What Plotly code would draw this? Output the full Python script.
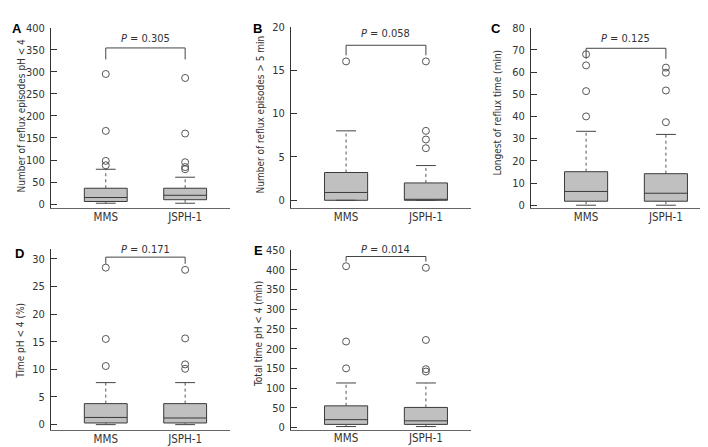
import plotly.graph_objects as go

cats = ["MMS", "JSPH-1"]

# A: number of reflux episodes pH < 4
a_q1 = [6, 10]
a_med = [15, 20]
a_q3 = [36, 36]
a_lo = [2, 2]
a_hi = [79, 61]
a_out_mms = [88, 98, 166, 295]
a_out_jsph = [79, 84, 95, 160, 286]

# B: number of reflux episodes > 5 min
b_q1 = [0, 0]
b_med = [0.9, 0]
b_q3 = [3.2, 2]
b_lo = [0, 0]
b_hi = [8, 4]
b_out_mms = [16]
b_out_jsph = [6, 7, 8, 16]

# C: longest reflux time (min)
c_q1 = [1.8, 1.8]
c_med = [6.2, 5.4]
c_q3 = [15.1, 14.2]
c_lo = [0, 0]
c_hi = [33.3, 31.9]
c_out_mms = [40, 51.4, 63, 68]
c_out_jsph = [37.4, 51.7, 59.7, 62]

# D: time pH < 4 (%)
d_q1 = [0.3, 0.3]
d_med = [1.3, 1.2]
d_q3 = [3.8, 3.8]
d_lo = [0, 0]
d_hi = [7.6, 7.6]
d_out_mms = [10.6, 15.5, 28.4]
d_out_jsph = [10.1, 10.9, 15.6, 28]

# E: total time pH < 4 (min)
e_q1 = [8, 8]
e_med = [20, 17]
e_q3 = [55, 51]
e_lo = [2.5, 2.5]
e_hi = [113, 113]
e_out_mms = [150, 218, 409]
e_out_jsph = [142, 148, 222, 405]

p_values = ["0.305", "0.058", "0.125", "0.171", "0.014"]
y_titles = ["Number of reflux episodes pH < 4", "Number of reflux episodes > 5 min",
            "Longest of reflux time (min)", "Time pH < 4 (%)", "Total time pH < 4 (min)"]
letters = ["A", "B", "C", "D", "E"]

W, H = 708, 447
FONT = "DejaVu Sans Condensed, DejaVu Sans, sans-serif"
DARK = "#333333"

# layout per panel: pixel box (left, right, top, bottom), y range, tick step,
# bracket (top, leg, text) in data units, letter pos, title x/y centre
panels = [
    dict(data=(a_q1, a_med, a_q3, a_lo, a_hi, a_out_mms, a_out_jsph),
         px=(43, 222, 14, 199), yr=(-9, 400), dt=50, br=(354, 328, 376), lp=(9, 15), tc=(13, 104)),
    dict(data=(b_q1, b_med, b_q3, b_lo, b_hi, b_out_mms, b_out_jsph),
         px=(283, 463, 13, 199), yr=(-0.9, 20), dt=5, br=(17.86, 16.7, 19.2), lp=(249, 15), tc=(252, 103)),
    dict(data=(c_q1, c_med, c_q3, c_lo, c_hi, c_out_mms, c_out_jsph),
         px=(523, 703, 14, 199), yr=(-1.3, 80), dt=10, br=(70.7, 66, 75.2), lp=(488, 15), tc=(490, 101)),
    dict(data=(d_q1, d_med, d_q3, d_lo, d_hi, d_out_mms, d_out_jsph),
         px=(43, 222, 241, 427), yr=(-1.06, 31.76), dt=5, br=(30.3, 29.1, 31.6), lp=(11, 246), tc=(13, 335)),
    dict(data=(e_q1, e_med, e_q3, e_lo, e_hi, e_out_mms, e_out_jsph),
         px=(283, 463, 242, 426), yr=(-5, 450), dt=50, br=(433.6, 421, 451.6), lp=(250, 242), tc=(251, 328)),
]

fig = go.Figure()
layout = dict(width=W, height=H, margin=dict(l=0, r=0, t=0, b=0),
              paper_bgcolor="white", plot_bgcolor="white", showlegend=False,
              font=dict(family=FONT, size=11, color=DARK))
annotations = []
xpos = [0, 1]
capw = 0.125

for k, p in enumerate(panels):
    q1, med, q3, lo, hi, out_m, out_j = p["data"]
    n = "" if k == 0 else str(k + 1)
    xa, ya = "x" + n, "y" + n
    l, r, t, b = p["px"]
    y0, y1 = p["yr"]
    d0, d1 = 1 - b / H, 1 - t / H

    fig.add_trace(go.Box(x=xpos, q1=q1, median=med, q3=q3, lowerfence=q1, upperfence=q3,
                         width=0.54, whiskerwidth=0, boxpoints=False,
                         fillcolor="#c0c0c0", line=dict(color="#3a3a3a", width=1),
                         xaxis=xa, yaxis=ya, hoverinfo="skip"))
    # whiskers (dashed) and caps
    wx, wy, cx, cy = [], [], [], []
    for i in range(2):
        wx += [xpos[i], xpos[i], None, xpos[i], xpos[i], None]
        wy += [q3[i], hi[i], None, q1[i], lo[i], None]
        cx += [xpos[i] - capw, xpos[i] + capw, None, xpos[i] - capw, xpos[i] + capw, None]
        cy += [hi[i], hi[i], None, lo[i], lo[i], None]
    fig.add_trace(go.Scatter(x=wx, y=wy, mode="lines", line=dict(color="#555555", width=1, dash="dot"),
                             xaxis=xa, yaxis=ya, hoverinfo="skip"))
    fig.add_trace(go.Scatter(x=cx, y=cy, mode="lines", line=dict(color="#444444", width=1),
                             xaxis=xa, yaxis=ya, hoverinfo="skip"))
    # outliers
    fig.add_trace(go.Scatter(x=[xpos[0]] * len(out_m) + [xpos[1]] * len(out_j), y=out_m + out_j,
                             mode="markers", marker=dict(symbol="circle-open", size=7,
                                                         color="#555555", line=dict(width=1)),
                             xaxis=xa, yaxis=ya, hoverinfo="skip", cliponaxis=False))
    # significance bracket
    btop, bleg, btxt = p["br"]
    fig.add_trace(go.Scatter(x=[xpos[0], xpos[0], xpos[1], xpos[1]], y=[bleg, btop, btop, bleg],
                             mode="lines", line=dict(color="#444444", width=1),
                             xaxis=xa, yaxis=ya, hoverinfo="skip"))
    ty = d0 + (btxt - y0) / (y1 - y0) * (d1 - d0)
    annotations.append(dict(x=0.5, y=ty, xref=xa, yref="paper", showarrow=False,
                            yanchor="middle",
                            text="<i>P</i> = " + p_values[k], font=dict(size=11, color=DARK)))

    layout["xaxis" + n] = dict(domain=[l / W, r / W], range=[-0.69, 1.565], anchor=ya,
                               tickvals=xpos, ticktext=cats, showline=True, linecolor="#666666",
                               linewidth=1, ticks="", ticklen=0, ticklabelstandoff=-2,
                               showgrid=False, zeroline=False,
                               tickfont=dict(size=11.5, color=DARK))
    layout["yaxis" + n] = dict(domain=[d0, d1], range=[y0, y1], anchor=xa,
                               dtick=p["dt"], tick0=0, showline=True, linecolor="#333333",
                               linewidth=1, ticks="inside", ticklen=6, tickcolor="#333333",
                               ticklabelstandoff=3,
                               showgrid=False, zeroline=False, tickfont=dict(size=11, color=DARK))
    annotations.append(dict(x=p["tc"][0] / W, y=1 - p["tc"][1] / H, xref="paper", yref="paper",
                            text=y_titles[k], textangle=-90, showarrow=False,
                            xanchor="center", yanchor="middle", font=dict(size=10, color=DARK)))
    annotations.append(dict(x=p["lp"][0] / W, y=1 - p["lp"][1] / H, xref="paper", yref="paper",
                            text="<b>" + letters[k] + "</b>", showarrow=False,
                            xanchor="center", yanchor="middle",
                            font=dict(size=13, color="black", family="Liberation Sans, Arial")))

layout["annotations"] = annotations
fig.update_layout(**layout)
fig.write_html("out.html")
